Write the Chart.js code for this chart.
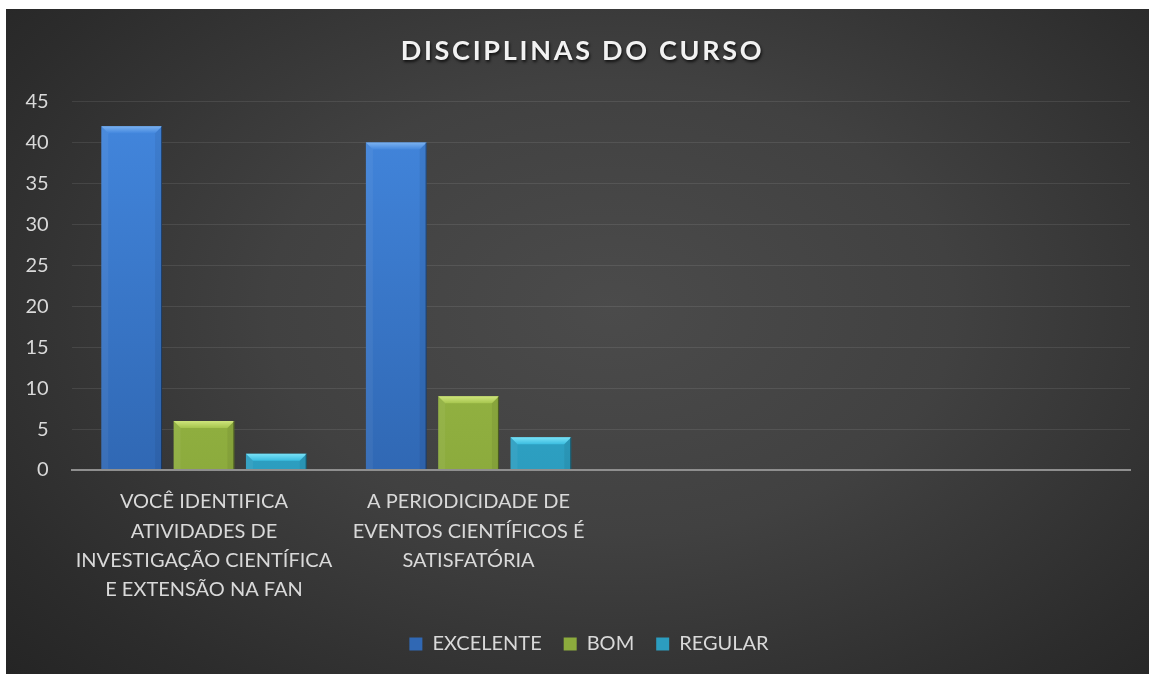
<!DOCTYPE html>
<html>
<head>
<meta charset="utf-8">
<script src="https://cdn.jsdelivr.net/npm/chart.js@4/dist/chart.umd.min.js"></script>
<style>
  html, body { margin: 0; padding: 0; background: #ffffff; }
  #wrap {
    position: absolute; left: 6px; top: 9px; width: 1143px; height: 665px;
    background: radial-gradient(ellipse 75% 85% at 53% 45%, #4b4b4b 0%, #414141 40%, #2c2c2c 80%, #232323 100%);
  }
</style>
</head>
<body>
<div id="wrap"><canvas id="c"></canvas></div>
<script>
const TITLE = 'DISCIPLINAS DO CURSO';
const categories = [
  ['VOCÊ IDENTIFICA', 'ATIVIDADES DE', 'INVESTIGAÇÃO CIENTÍFICA', 'E EXTENSÃO NA FAN'],
  ['A PERIODICIDADE DE', 'EVENTOS CIENTÍFICOS É', 'SATISFATÓRIA'],
  '',
  ''
];
const seriesNames = ['EXCELENTE', 'BOM', 'REGULAR'];
const excelente = [42, 40, null, null];
const bom = [6, 9, null, null];
const regular = [2, 4, null, null];
const yTicks = [0, 5, 10, 15, 20, 25, 30, 35, 40, 45];

const palette = [
  { top: '#4387de', bottom: '#3068b4', bevel: '#7ab1f0', solid: '#3a75c4' },
  { top: '#a6c54e', bottom: '#8cab3d', bevel: '#cfe57c', solid: '#93b443' },
  { top: '#3bbde0', bottom: '#2c9dbf', bevel: '#7ae2f7', solid: '#32a9cc' }
];

function barFill(i) {
  return function (ctx) {
    const p = palette[i];
    if (ctx.type !== 'data') return p.solid;
    const ca = ctx.chart.chartArea;
    if (!ca) return p.solid;
    const g = ctx.chart.ctx.createLinearGradient(0, ca.top, 0, ca.bottom);
    g.addColorStop(0, p.top);
    g.addColorStop(1, p.bottom);
    return g;
  };
}

const bevelPlugin = {
  id: 'bevel',
  afterDatasetsDraw(chart) {
    const ctx = chart.ctx;
    chart.data.datasets.forEach((ds, di) => {
      const meta = chart.getDatasetMeta(di);
      const p = palette[di];
      meta.data.forEach((el, i) => {
        if (ds.data[i] == null) return;
        const { x, y, base, width } = el.getProps(['x', 'y', 'base', 'width'], true);
        const l = x - width / 2, r = x + width / 2, t = y, b = base;
        const bv = Math.min(7, (b - t) / 2);
        ctx.save();
        const g = ctx.createLinearGradient(0, t, 0, t + bv);
        g.addColorStop(0, p.bevel);
        g.addColorStop(1, p.top);
        ctx.fillStyle = g;
        ctx.beginPath();
        ctx.moveTo(l, t); ctx.lineTo(r, t); ctx.lineTo(r - bv, t + bv); ctx.lineTo(l + bv, t + bv); ctx.closePath();
        ctx.fill();
        ctx.fillStyle = 'rgba(255,255,255,0.05)';
        ctx.beginPath();
        ctx.moveTo(l, t); ctx.lineTo(l + bv, t + bv); ctx.lineTo(l + bv, b); ctx.lineTo(l, b); ctx.closePath();
        ctx.fill();
        ctx.fillStyle = 'rgba(0,0,0,0.06)';
        ctx.beginPath();
        ctx.moveTo(r, t); ctx.lineTo(r - bv, t + bv); ctx.lineTo(r - bv, b); ctx.lineTo(r, b); ctx.closePath();
        ctx.fill();
        ctx.strokeStyle = 'rgba(0,0,0,0.45)';
        ctx.lineWidth = 1;
        ctx.beginPath();
        ctx.moveTo(r - 0.5, t); ctx.lineTo(r - 0.5, b);
        ctx.stroke();
        ctx.restore();
      });
    });
  }
};

const titlePlugin = {
  id: 'spacedTitle',
  afterDraw(chart) {
    const ctx = chart.ctx;
    ctx.save();
    ctx.font = 'bold 27px Lato';
    ctx.letterSpacing = '2.7px';
    ctx.fillStyle = '#f2f2f2';
    ctx.textAlign = 'center';
    ctx.textBaseline = 'alphabetic';
    ctx.shadowColor = 'rgba(0,0,0,0.75)';
    ctx.shadowBlur = 3;
    ctx.shadowOffsetX = 1;
    ctx.shadowOffsetY = 2;
    ctx.fillText(TITLE, chart.width / 2 + 5, 50.5);
    ctx.restore();
  }
};

// Excel centres its legend slightly right of the canvas centre
const legendShift = {
  id: 'legendShift',
  afterLayout(chart) {
    const lg = chart.legend;
    if (lg) { lg.left += 21; lg.right += 21; }
  }
};

new Chart(document.getElementById('c'), {
  type: 'bar',
  data: {
    labels: categories,
    datasets: [
      { label: seriesNames[0], data: excelente, backgroundColor: barFill(0) },
      { label: seriesNames[1], data: bom, backgroundColor: barFill(1) },
      { label: seriesNames[2], data: regular, backgroundColor: barFill(2) }
    ]
  },
  options: {
    responsive: true,
    maintainAspectRatio: false,
    animation: false,
    datasets: { bar: { categoryPercentage: 0.82, barPercentage: 0.84, borderWidth: 0 } },
    layout: { padding: { top: 92.7, right: 19, bottom: 10, left: 0 } },
    scales: {
      x: {
        grid: { display: false, drawTicks: false },
        border: { display: true, color: '#8f8f8f', width: 2 },
        ticks: {
          color: '#d9d9d9', font: { family: 'Lato', size: 20, lineHeight: 1.47 },
          padding: 17, maxRotation: 0, minRotation: 0, autoSkip: false
        },
        afterFit(scale) { scale.height = 142; }
      },
      y: {
        min: 0, max: 45,
        afterBuildTicks(scale) { scale.ticks = yTicks.map(v => ({ value: v })); },
        grid: {
          drawTicks: false,
          color: (c) => c.tick && c.tick.value === 0 ? '#8f8f8f' : 'rgba(255,255,255,0.09)',
          lineWidth: (c) => c.tick && c.tick.value === 0 ? 2 : 1
        },
        border: { display: false },
        ticks: { color: '#d9d9d9', font: { family: 'Lato', size: 20 }, padding: 23 },
        afterFit(scale) { scale.width = 65.7; }
      }
    },
    plugins: {
      title: { display: false },
      tooltip: { enabled: false },
      legend: {
        position: 'bottom',
        labels: {
          color: '#d9d9d9', font: { family: 'Lato', size: 20 },
          boxWidth: 13, boxHeight: 13, padding: 22
        }
      }
    }
  },
  plugins: [bevelPlugin, titlePlugin, legendShift]
});
</script>
</body>
</html>
